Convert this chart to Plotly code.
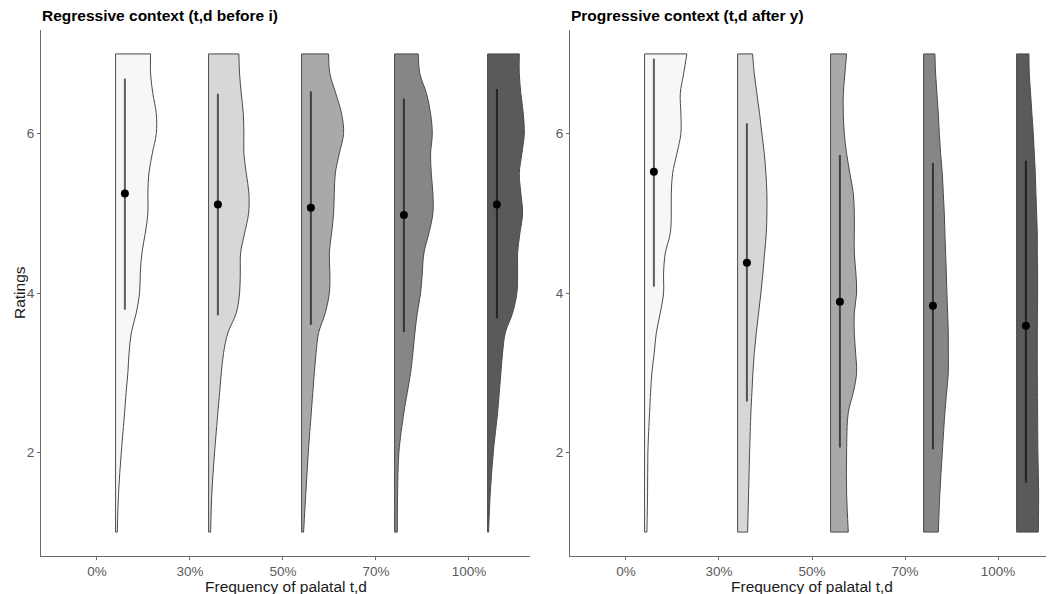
import plotly.graph_objects as go

# ---------------- data ----------------
categories = ["0%", "30%", "50%", "70%", "100%"]
cat_pos = [1, 2, 3, 4, 5]

# rating levels at which the (half) violin densities were read
rating_grid = [1, 1.5, 2, 2.5, 2.75, 3, 3.25, 3.5, 3.75, 4, 4.25, 4.5, 4.75,
               5, 5.25, 5.5, 5.75, 6, 6.25, 6.5, 6.75, 7]

# Regressive context (t,d before i): density (arbitrary units) per category
reg_dens_0 = [1.7, 3, 5.7, 9, 10.5, 12.3, 13.5, 15.7, 20.7, 24, 24.7, 26.3, 29.7,
              32.3, 32.3, 33.3, 36.7, 40.7, 40.7, 37.3, 35, 35]
reg_dens_30 = [2, 3.3, 6, 9.3, 11, 12.7, 15, 19.3, 27.7, 31, 31.7, 32, 36,
               40, 40.3, 37.7, 35.3, 35.3, 34.7, 32.7, 31, 30.3]
reg_dens_50 = [2, 4.3, 6.7, 9.7, 11.2, 12.7, 14.5, 17, 23.7, 27.7, 28.3, 27.7, 30,
               32, 32.7, 33.7, 37.7, 42, 40, 34.3, 28.3, 27]
reg_dens_70 = [2.7, 3, 4.3, 9.3, 12.7, 16, 18.3, 20.3, 22.7, 26, 27.7, 29.3, 34.3,
               38.3, 38.3, 36.7, 36, 37.7, 36, 32, 25.3, 23.7]
reg_dens_100 = [1, 2.7, 5.7, 10, 11.7, 13.3, 15, 17.7, 25, 29.3, 30, 30, 32.3,
                35, 33.3, 31.7, 34.3, 36.7, 35.7, 33.3, 31.7, 31.7]
reg_mean = [5.25, 5.11, 5.07, 4.98, 5.11]
reg_low = [3.79, 3.72, 3.60, 3.51, 3.68]
reg_high = [6.69, 6.50, 6.53, 6.44, 6.56]

# Progressive context (t,d after y)
prog_dens_0 = [2.3, 3, 3.3, 5, 6, 7.3, 9.7, 11.7, 15.7, 19, 19, 20.7, 25.7,
               26.7, 26.7, 28, 32.3, 36.3, 36.3, 35.7, 39, 42.3]
prog_dens_30 = [10, 11, 12, 13.3, 14.3, 15.3, 16.7, 18.7, 21, 23.3, 25.3, 27, 28.7,
                29.3, 29.3, 28.3, 26.7, 24.3, 22, 19.3, 16.7, 15]
prog_dens_50 = [17.7, 16, 16, 17.7, 22.7, 26, 25, 23.7, 23.7, 26, 25.3, 23.7, 23.7,
                23.7, 22.7, 19.3, 16, 13.7, 12.7, 12.7, 14.3, 16]
prog_dens_70 = [14.7, 16.3, 18.7, 21.3, 23, 24.7, 24.7, 24.7, 24, 23.3, 22.7, 22, 21.3,
                20.7, 19.7, 18.7, 17, 15.7, 14.7, 13.3, 12, 11.3]
prog_dens_100 = [21.7, 22, 21.3, 21, 20.8, 20.7, 20.7, 20.7, 20.8, 21, 21, 20.7, 20.7,
                 20, 19.3, 18.7, 17.7, 16.7, 15.3, 14, 12.7, 12.3]
prog_mean = [5.52, 4.38, 3.89, 3.84, 3.59]
prog_low = [4.08, 2.64, 2.06, 2.04, 1.62]
prog_high = [6.94, 6.13, 5.73, 5.63, 5.66]

y_ticks = [2, 4, 6]

# ---------------- style ----------------
fills = ["#f7f7f7", "#d7d7d7", "#a9a9a9", "#868686", "#5a5a5a"]
outline = "#4a4a4a"
violin_nudge = 0.2
point_nudge = 0.3
dens_scale = 1 / 93.0
FONT = "Liberation Sans, Arial, Helvetica, sans-serif"

fig = go.Figure()


def add_panel(xa, ya, dens_list, means, lows, highs):
    for i, dens in enumerate(dens_list):
        base = cat_pos[i] + violin_nudge
        widths = [base + d * dens_scale for d in dens]
        # baseline (flat side)
        fig.add_trace(go.Scatter(
            x=[base, base], y=[rating_grid[0], rating_grid[-1]],
            mode="lines", line=dict(color=outline, width=1),
            xaxis=xa, yaxis=ya, showlegend=False, hoverinfo="skip"))
        # curved side, filled back to the baseline
        fig.add_trace(go.Scatter(
            x=widths, y=rating_grid, mode="lines",
            line=dict(color=outline, width=1, shape="spline", smoothing=1),
            fill="tonextx", fillcolor=fills[i],
            xaxis=xa, yaxis=ya, showlegend=False, hoverinfo="skip"))
        # top and bottom caps
        fig.add_trace(go.Scatter(
            x=[base, widths[0], None, base, widths[-1]],
            y=[rating_grid[0], rating_grid[0], None, rating_grid[-1], rating_grid[-1]],
            mode="lines", line=dict(color=outline, width=1),
            xaxis=xa, yaxis=ya, showlegend=False, hoverinfo="skip"))
        # interval line
        px = cat_pos[i] + point_nudge
        fig.add_trace(go.Scatter(
            x=[px, px], y=[lows[i], highs[i]], mode="lines",
            line=dict(color="rgba(0,0,0,0.62)", width=2),
            xaxis=xa, yaxis=ya, showlegend=False, hoverinfo="skip"))
        # mean point
        fig.add_trace(go.Scatter(
            x=[px], y=[means[i]], mode="markers",
            marker=dict(color="black", size=8),
            xaxis=xa, yaxis=ya, showlegend=False, hoverinfo="skip"))


add_panel("x", "y", [reg_dens_0, reg_dens_30, reg_dens_50, reg_dens_70, reg_dens_100],
          reg_mean, reg_low, reg_high)
add_panel("x2", "y2", [prog_dens_0, prog_dens_30, prog_dens_50, prog_dens_70, prog_dens_100],
          prog_mean, prog_low, prog_high)

W, H = 1048, 594
ydom = [(H - 556) / H, (H - 30) / H]
axis_common = dict(showline=True, linecolor="#6a6a6a", linewidth=1.3,
                   ticks="outside", ticklen=3, tickcolor="#6a6a6a", tickwidth=1,
                   showgrid=False, zeroline=False,
                   tickfont=dict(family=FONT, size=13.5, color="#5a5a5a"))

fig.update_layout(
    width=W, height=H,
    margin=dict(l=0, r=0, t=0, b=0),
    paper_bgcolor="white", plot_bgcolor="white",
    font=dict(family=FONT),
    xaxis=dict(domain=[41 / W, 530 / W], range=[0.398, 5.656],
               tickvals=cat_pos, ticktext=categories, anchor="y", **axis_common),
    yaxis=dict(domain=ydom, range=[0.7, 7.3], tickvals=y_ticks, anchor="x", **axis_common),
    xaxis2=dict(domain=[570 / W, 1046 / W], range=[0.398, 5.516],
                tickvals=cat_pos, ticktext=categories, anchor="y2", **axis_common),
    yaxis2=dict(domain=ydom, range=[0.7, 7.3], tickvals=y_ticks, anchor="x2", **axis_common),
)

ann = []
ann.append(dict(text="<b>Regressive context (t,d before i)</b>", x=40 / W, y=(H - 16) / H,
                xref="paper", yref="paper", xanchor="left", yanchor="middle",
                showarrow=False, font=dict(family=FONT, size=15.5, color="black")))
ann.append(dict(text="<b>Progressive context (t,d after y)</b>", x=569 / W, y=(H - 16) / H,
                xref="paper", yref="paper", xanchor="left", yanchor="middle",
                showarrow=False, font=dict(family=FONT, size=15.5, color="black")))
ann.append(dict(text="Ratings", x=19 / W, y=(H - 293) / H, textangle=-90,
                xref="paper", yref="paper", xanchor="center", yanchor="middle",
                showarrow=False, font=dict(family=FONT, size=15.5, color="#1a1a1a")))
for cx in (286, 812):
    ann.append(dict(text="Frequency of palatal t,d", x=cx / W, y=(H - 586) / H,
                    xref="paper", yref="paper", xanchor="center", yanchor="middle",
                    showarrow=False, font=dict(family=FONT, size=15.5, color="#1a1a1a")))
fig.update_layout(annotations=ann)

fig.write_html("out.html")
